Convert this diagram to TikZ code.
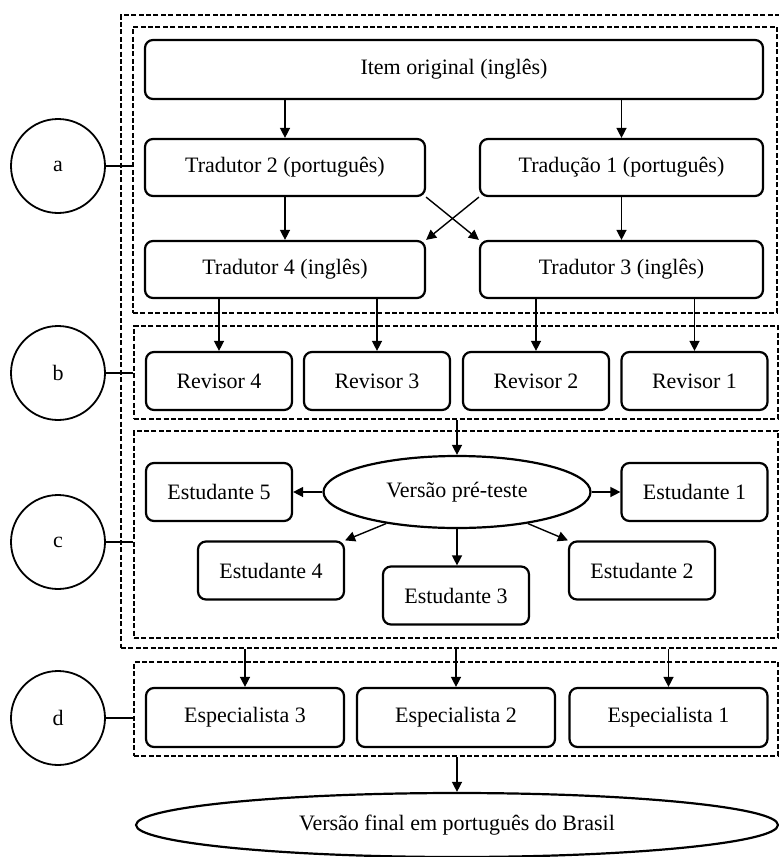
\documentclass[tikz,border=0pt]{standalone}
\usepackage{fontspec}
\setmainfont{Liberation Serif}
\usetikzlibrary{arrows.meta,shapes.geometric,fit}

\tikzset{
  stage/.style={draw, line width=1.1pt, rounded corners=4pt, inner sep=0pt, font=\fontsize{11}{13}\selectfont},
  oval/.style={draw, ellipse, line width=1.1pt, inner sep=0pt, font=\fontsize{11}{13}\selectfont},
  grp/.style={draw, dash pattern=on 2.5pt off 1.2pt, line width=1pt, inner sep=0pt},
  lbl/.style={draw, circle, line width=0.9pt, minimum size=47pt, inner sep=0pt, font=\fontsize{11}{13}\selectfont},
  arr/.style={-{Triangle[length=5pt,width=5pt]}, line width=0.7pt},
  link/.style={line width=0.8pt}
}

\begin{document}
\begin{tikzpicture}[x=0.5pt, y=-0.5pt]
    \useasboundingbox (0,0) rectangle (779,857);

    % Dashed groups
    \node[grp, fit={(121,15) (800,648)}] (outer) {};
    \node[grp, fit={(133,27) (777,313)}] (ga) {};
    \node[grp, fit={(134,326) (778,419)}] (gb) {};
    \node[grp, fit={(134,431) (778,638)}] (gc) {};
    \node[grp, fit={(134,662) (778,756)}] (gd) {};

    % Stage labels
    \node[lbl] (ca) at (58,166) {a};
    \node[lbl] (cb) at (58,373) {b};
    \node[lbl] (cc) at (58,542) {c};
    \node[lbl] (cd) at (58,718) {d};
    \foreach \c/\g in {ca/ga, cb/gb, cc/gc, cd/gd}
      \draw[link] (\c.east) -- (\c -| \g.west);

    % Translation and back-translation
    \node[stage, minimum width=309pt, minimum height=29.5pt] (item) at (454,69.5) {Item original (inglês)};
    \node[stage, minimum width=140pt, minimum height=28.5pt] (trad2) at (285,167.5) {Tradutor 2 (português)};
    \node[stage, minimum width=141.5pt, minimum height=28.5pt] (trad1) at (621.5,167.5) {Tradução 1 (português)};
    \node[stage, minimum width=140pt, minimum height=28.5pt] (trad4) at (285,269.5) {Tradutor 4 (inglês)};
    \node[stage, minimum width=141.5pt, minimum height=28.5pt] (trad3) at (621.5,269.5) {Tradutor 3 (inglês)};

    \draw[arr] (trad2.north |- item.south) -- (trad2.north);
    \draw[arr] (trad1.north |- item.south) -- (trad1.north);
    \draw[arr] (trad2) -- (trad4);
    \draw[arr] (trad1) -- (trad3);
    \draw[arr] (trad2.south east) -- (trad3.north west);
    \draw[arr] (trad1.south west) -- (trad4.north east);

    % Review
    \node[stage, minimum width=73pt, minimum height=29pt] (rev4) at (219,381) {Revisor 4};
    \node[stage, minimum width=73pt, minimum height=29pt] (rev3) at (377,381) {Revisor 3};
    \node[stage, minimum width=73pt, minimum height=29pt] (rev2) at (536,381) {Revisor 2};
    \node[stage, minimum width=73pt, minimum height=29pt] (rev1) at (694.5,381) {Revisor 1};

    \draw[arr] (rev4.north |- trad4.south) -- (rev4.north);
    \draw[arr] (rev3.north |- trad4.south) -- (rev3.north);
    \draw[arr] (rev2.north |- trad3.south) -- (rev2.north);
    \draw[arr] (rev1.north |- trad3.south) -- (rev1.north);

    % Pre-test
    \node[oval, minimum width=133.5pt, minimum height=36pt] (pre) at (457,492) {Versão pré-teste};
    \node[stage, minimum width=73pt, minimum height=29pt] (est5) at (219,492) {Estudante 5};
    \node[stage, minimum width=73pt, minimum height=29pt] (est1) at (694.5,492) {Estudante 1};
    \node[stage, minimum width=73pt, minimum height=29pt] (est4) at (271,570.5) {Estudante 4};
    \node[stage, minimum width=73pt, minimum height=29pt] (est3) at (456,595.5) {Estudante 3};
    \node[stage, minimum width=73pt, minimum height=29pt] (est2) at (642,570.5) {Estudante 2};

    \draw[arr] (gb.south -| pre.north) -- (pre.north);
    \draw[arr] (pre.west) -- (est5.east);
    \draw[arr] (pre.east) -- (est1.west);
    \draw[arr] (pre.204) -- (est4.north east);
    \draw[arr] (pre.south) -- (est3.north -| pre.south);
    \draw[arr] (pre.-24) -- (est2.north west);

    % Experts and final version
    \node[stage, minimum width=99pt, minimum height=29.5pt] (esp3) at (245,717.5) {Especialista 3};
    \node[stage, minimum width=99pt, minimum height=29.5pt] (esp2) at (456,717.5) {Especialista 2};
    \node[stage, minimum width=99pt, minimum height=29.5pt] (esp1) at (668.5,717.5) {Especialista 1};

    \draw[arr] (esp3.north |- outer.south) -- (esp3.north);
    \draw[arr] (esp2.north |- outer.south) -- (esp2.north);
    \draw[arr] (esp1.north |- outer.south) -- (esp1.north);

    \node[oval, minimum width=321pt, minimum height=32pt] (final) at (457,825) {Versão final em português do Brasil};
    \draw[arr] (gd.south -| final.north) -- (final.north);
\end{tikzpicture}
\end{document}
